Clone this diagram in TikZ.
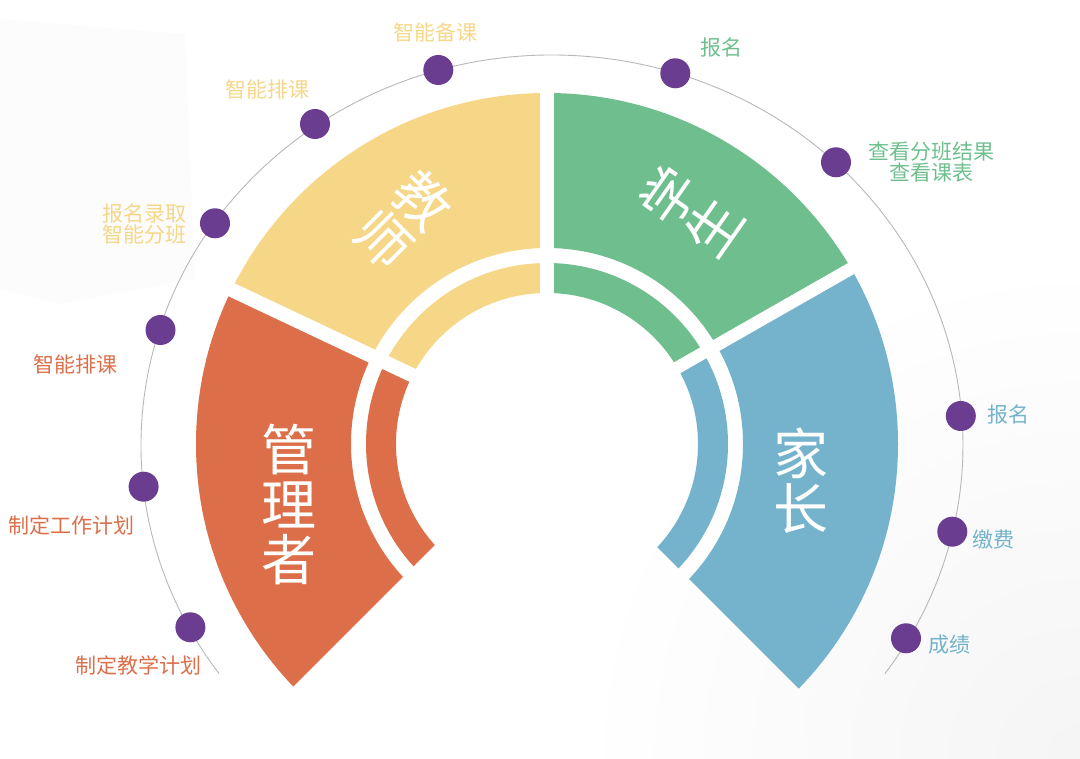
\documentclass[tikz,border=0pt]{standalone}
\usepackage{fontspec}
\setmainfont{Noto Sans CJK SC}
\usetikzlibrary{calc,positioning}
\definecolor{tyellow}{HTML}{F6D788}
\definecolor{tgreen}{HTML}{6FBF8E}
\definecolor{torange}{HTML}{DC6F4A}
\definecolor{tblue}{HTML}{74B3CB}
\definecolor{tpurple}{HTML}{6A3D91}
\begin{document}
\begin{tikzpicture}[x=1pt,y=1pt,
    dot/.style={circle,fill=tpurple,minimum size=30pt,inner sep=0pt},
    lab/.style={font=\fontsize{21}{21.5}\selectfont,inner sep=0pt,align=center},
    big/.style={font=\fontsize{55}{55}\selectfont,text=white,inner sep=0pt,align=center},
    cutline/.style={draw=white,line width=#1}]
  \useasboundingbox (0,0) rectangle (1080,759);
  % faint backdrop
  \fill[black!1] (0,740) -- (185,725) -- (195,480) -- (60,455) -- (0,470) -- cycle;
  \begin{scope}
    \clip (0,0) rectangle (1080,759);
    \shade[inner color=black!4,outer color=white] (1080,0) circle (500);
  \end{scope}
  % ring centre and cut lines
  \coordinate (C) at (547,315);
  \coordinate (pl) at (547,320.1);
  \coordinate (pr) at (547,317);
  \coordinate (pbl) at (547,326);
  \coordinate (pbr) at (547,322);
  % manager
  \begin{scope}
    \clip (pl) -- ($(pl)+(154.7:800)$) -- ($(pbl)+(225:800)$) -- (pbl) -- cycle;
    \fill[torange,even odd rule] (C) circle (351) (C) circle (196) (C) circle (181) (C) circle (151);
  \end{scope}
  % teacher
  \begin{scope}
    \clip (pl) -- (547,1100) -- ($(pl)+(154.7:800)$) -- cycle;
    \fill[tyellow,even odd rule] (C) circle (351) (C) circle (196) (C) circle (181) (C) circle (151);
  \end{scope}
  % student
  \begin{scope}
    \clip (pr) -- (547,1100) -- ($(pr)+(29.7:800)$) -- cycle;
    \fill[tgreen,even odd rule] (C) circle (351) (C) circle (196) (C) circle (181) (C) circle (151);
  \end{scope}
  % parent
  \begin{scope}
    \clip (pr) -- ($(pr)+(29.7:800)$) -- ($(pbr)+(-45:800)$) -- (pbr) -- cycle;
    \fill[tblue,even odd rule] (C) circle (351) (C) circle (196) (C) circle (181) (C) circle (151);
  \end{scope}
  % gaps
  \draw[cutline=14.5pt] (C) -- ++(90:370);
  \draw[cutline=14.3pt] (pl) -- ++(154.7:370);
  \draw[cutline=12.5pt] (pr) -- ++(29.7:370);

  % outer thin arc
  \coordinate (E) at (552,314);
  \draw[black!28,line width=0.9pt] ($(E)+(215.9:411 and 390)$) arc[start angle=215.9,end angle=-35.9,x radius=411,y radius=390];

  % big labels
  \node[big] (guanli) at (289.3,254.8) {管\\理\\者};
  \node[big] (jiazhang) at (800.5,278.2) {家\\长};
  \node[big,rotate=-45] (jiaoshi) at (403.2,539) {教\\师};
  \node[big,rotate=55] (xuesheng) at (691,548.2) {学\\生};

  % teacher items
  \node[dot] (t1) at (438.3,689) {};
  \node[dot] (t2) at (315,635) {};
  \node[dot] (t3) at (215,535.7) {};
  \node[lab,text=tyellow] (lt1) at (435,726) {智能备课};
  \node[lab,text=tyellow] (lt2) at (267.7,669) {智能排课};
  \node[lab,text=tyellow] (lt3) at (144,535) {报名录取\\智能分班};
  % manager items
  \node[dot] (m1) at (160.5,429) {};
  \node[dot] (m2) at (143.6,272.3) {};
  \node[dot] (m3) at (190.4,131.7) {};
  \node[lab,text=torange] (lm1) at (75.2,395) {智能排课};
  \node[lab,text=torange] (lm2) at (71.5,234) {制定工作计划};
  \node[lab,text=torange] (lm3) at (138.2,94) {制定教学计划};
  % student items
  \node[dot] (s1) at (675.3,685.7) {};
  \node[dot] (s2) at (836,596.7) {};
  \node[lab,text=tgreen] (ls1) at (721.8,711.3) {报名};
  \node[lab,text=tgreen] (ls2) at (931.5,597) {查看分班结果\\查看课表};
  % parent items
  \node[dot] (p1) at (960.8,343) {};
  \node[dot] (p2) at (952.3,227.3) {};
  \node[dot] (p3) at (906,120.7) {};
  \node[lab,text=tblue] (lp1) at (1008.8,344) {报名};
  \node[lab,text=tblue] (lp2) at (993,219) {缴费};
  \node[lab,text=tblue] (lp3) at (949,114) {成绩};
\end{tikzpicture}
\end{document}
